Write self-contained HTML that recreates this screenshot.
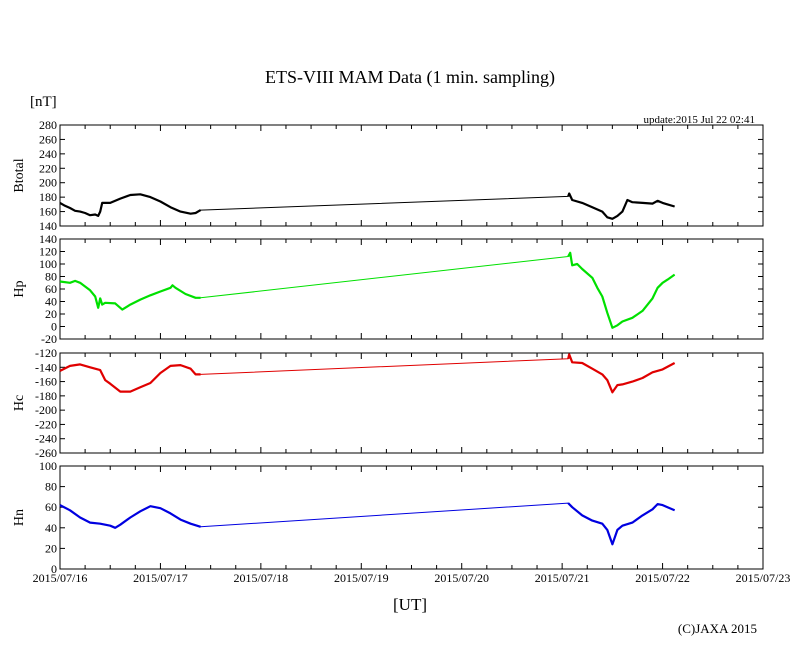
<!DOCTYPE html>
<html><head><meta charset="utf-8"><style>
body{margin:0;background:#fff}
svg{display:block;font-family:"Liberation Serif",serif}
</style></head><body>
<svg id="c" width="810" height="655">
<text x="410" y="83" text-anchor="middle" font-size="18">ETS-VIII MAM Data (1 min. sampling)</text>
<text x="30" y="106" font-size="15">[nT]</text>
<text x="755" y="123" text-anchor="end" font-size="11">update:2015 Jul 22 02:41</text>
<text x="410" y="610" text-anchor="middle" font-size="17">[UT]</text>
<text x="757" y="633" text-anchor="end" font-size="13">(C)JAXA 2015</text>
</svg>
<script>
const xTickLabels=["2015/07/16","2015/07/17","2015/07/18","2015/07/19","2015/07/20","2015/07/21","2015/07/22","2015/07/23"];
const btT=[0,0.05,0.1,0.15,0.2,0.25,0.3,0.35,0.38,0.4,0.42,0.5,0.6,0.7,0.8,0.9,1.0,1.1,1.2,1.3,1.35,1.4,5.06,5.07,5.1,5.2,5.3,5.4,5.45,5.5,5.55,5.6,5.65,5.7,5.8,5.9,5.95,6.0,6.05,6.12];
const btV=[172,168,165,161,160,158,155,156,154,160,172,172,178,183,184,180,174,166,160,157,158,162,181,185,176,172,166,160,152,150,154,160,176,173,172,171,175,172,170,167];
const hpT=[0,0.1,0.15,0.2,0.3,0.35,0.38,0.4,0.42,0.45,0.55,0.62,0.7,0.8,0.9,1.0,1.1,1.12,1.15,1.25,1.35,1.4,5.06,5.08,5.1,5.15,5.2,5.3,5.35,5.4,5.45,5.5,5.55,5.6,5.7,5.8,5.9,5.95,6.0,6.05,6.12];
const hpV=[72,70,73,70,58,48,30,45,35,38,37,27,35,43,50,56,62,66,62,52,46,46,112,118,98,100,92,78,62,48,22,-2,2,8,14,25,45,62,70,75,83];
const hcT=[0,0.1,0.2,0.3,0.4,0.45,0.5,0.6,0.7,0.8,0.9,1.0,1.1,1.2,1.3,1.35,1.4,5.06,5.07,5.1,5.2,5.3,5.4,5.45,5.5,5.55,5.6,5.7,5.8,5.9,6.0,6.12];
const hcV=[-145,-138,-136,-140,-144,-158,-163,-174,-174,-168,-162,-148,-138,-137,-142,-150,-150,-128,-122,-133,-134,-142,-150,-158,-175,-165,-164,-160,-155,-147,-143,-134];
const hnT=[0,0.1,0.2,0.3,0.4,0.5,0.55,0.6,0.7,0.8,0.9,1.0,1.1,1.2,1.3,1.4,5.06,5.1,5.2,5.3,5.4,5.45,5.5,5.55,5.6,5.7,5.8,5.9,5.95,6.0,6.12];
const hnV=[62,57,50,45,44,42,40,43,50,56,61,59,54,48,44,41,64,60,52,47,44,38,24,38,42,45,52,58,63,62,57];
const panels=[
 {name:"btotal",label:"Btotal",top:125,bot:226,min:140,max:280,step:20,color:"#000",t:btT,v:btV},
 {name:"hp",label:"Hp",top:239,bot:339,min:-20,max:140,step:20,color:"#00e000",t:hpT,v:hpV},
 {name:"hc",label:"Hc",top:353,bot:453,min:-260,max:-120,step:20,color:"#e00000",t:hcT,v:hcV},
 {name:"hn",label:"Hn",top:466,bot:569,min:0,max:100,step:20,color:"#0000e0",t:hnT,v:hnV}];
const L=60,R=763,svg=document.getElementById('c'),NS="http://www.w3.org/2000/svg";
const xS=t=>L+(R-L)*t/7;
function mk(tag,a,p){const e=document.createElementNS(NS,tag);for(const k in a)e.setAttribute(k,a[k]);(p||svg).appendChild(e);return e;}
panels.forEach((p,pi)=>{
 const yS=v=>p.bot-(v-p.min)/(p.max-p.min)*(p.bot-p.top);
 const g=mk('g',{});
 
 
 const fr=mk('rect',{x:L,y:p.top,width:R-L,height:p.bot-p.top,fill:'none',stroke:'#000','stroke-width':1},g);
 
 
 for(let v=p.min;v<=p.max+0.001;v+=p.step){
  const y=yS(v);
  mk('line',{x1:L,x2:L+5,y1:y,y2:y,stroke:'#000'},g);
  mk('line',{x1:R-5,x2:R,y1:y,y2:y,stroke:'#000'},g);
  const tx=mk('text',{x:L-3,y:y+4,'text-anchor':'end','font-size':12},g);
  tx.textContent=v;
  
  
 }
 for(let q=0;q<=28;q++){
  const x=xS(q/4),len=q%4==0?6:4;
  mk('line',{x1:x,x2:x,y1:p.bot,y2:p.bot-len,stroke:'#000'},g);
  mk('line',{x1:x,x2:x,y1:p.top,y2:p.top+len,stroke:'#000'},g);
 }
 const yl=mk('text',{x:0,y:0,'text-anchor':'middle','font-size':14,transform:`translate(23,${(p.top+p.bot)/2}) rotate(-90)`},g);
 yl.textContent=p.label;
 
 
 const d=p.t.map((t,i)=>(i?'L':'M')+xS(t).toFixed(1)+','+yS(p.v[i]).toFixed(1)).join('');
 const ln=mk('path',{d:d,fill:'none',stroke:p.color,'stroke-width':1,'stroke-linejoin':'round'},g);
 
 
 // thicker bands where data is dense (skip the data gap segment)
 let d2='';
 p.t.forEach((t,i)=>{const gap=i>0&&t-p.t[i-1]>1;d2+=(i==0||gap?'M':'L')+xS(t).toFixed(1)+','+yS(p.v[i]).toFixed(1);});
 const bd=mk('path',{d:d2,fill:'none',stroke:p.color,'stroke-width':2.2,'stroke-linejoin':'round'},g);
 
 
 if(pi==3){
  xTickLabels.forEach((s,i)=>{
   const tx=mk('text',{x:xS(i),y:582,'text-anchor':'middle','font-size':12},g);
   tx.textContent=s;
   
   
  });
 }
});
</script>
</body></html>
